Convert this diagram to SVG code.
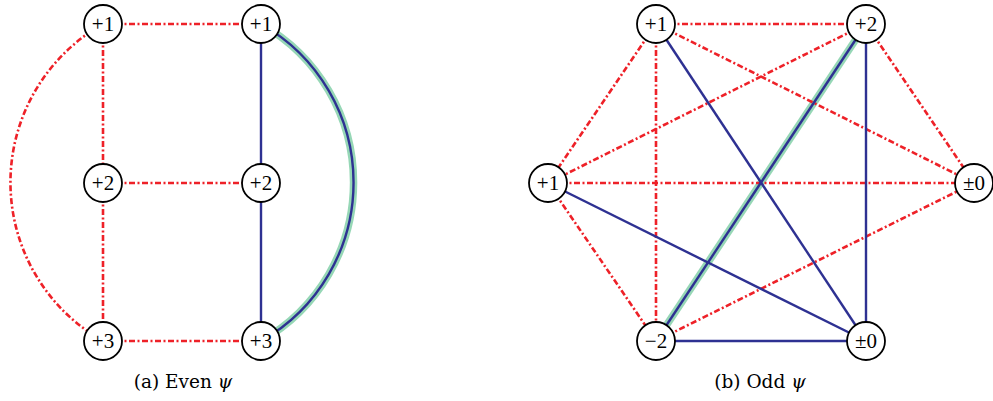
<svg xmlns="http://www.w3.org/2000/svg" width="993" height="401" viewBox="0 0 993 401">
<style>
.r{stroke:#ee2128;stroke-width:2.6;stroke-dasharray:6 2.5 2 2.5;fill:none}
.b{stroke:#2e3192;stroke-width:2.4;fill:none}
.g{stroke:#96d7b6;stroke-width:7.5;fill:none}
.n circle{fill:#fff;stroke:#000;stroke-width:1.8}
.n text{font-family:"Liberation Serif","DejaVu Serif",serif;font-size:21px;fill:#000;text-anchor:middle}
.cap{font-family:"DejaVu Serif","Liberation Serif",serif;font-size:18.5px;fill:#000;text-anchor:middle}
</style>
<g id="connectors">
<path class="g" d="M261,24 A182 182 0 0 1 261,341"/>
<line class="g" x1="866" y1="24" x2="656" y2="341"/>
<line class="r" x1="103" y1="24" x2="261" y2="24"/>
<line class="r" x1="103" y1="24" x2="103" y2="183"/>
<line class="r" x1="103" y1="183" x2="103" y2="341"/>
<line class="r" x1="103" y1="183" x2="261" y2="183"/>
<line class="r" x1="103" y1="341" x2="261" y2="341"/>
<path class="r" d="M103,24 A182 182 0 0 0 103,341"/>
<line class="b" x1="261" y1="24" x2="261" y2="183"/>
<line class="b" x1="261" y1="183" x2="261" y2="341"/>
<path class="b" d="M261,24 A182 182 0 0 1 261,341"/>
<line class="r" x1="656" y1="24" x2="866" y2="24"/>
<line class="r" x1="656" y1="24" x2="548" y2="183"/>
<line class="r" x1="656" y1="24" x2="656" y2="341"/>
<line class="r" x1="656" y1="24" x2="974" y2="183"/>
<line class="r" x1="866" y1="24" x2="548" y2="183"/>
<line class="r" x1="866" y1="24" x2="974" y2="183"/>
<line class="r" x1="548" y1="183" x2="974" y2="183"/>
<line class="r" x1="548" y1="183" x2="656" y2="341"/>
<line class="r" x1="656" y1="341" x2="974" y2="183"/>
<line class="b" x1="656" y1="24" x2="866" y2="341"/>
<line class="b" x1="866" y1="24" x2="656" y2="341"/>
<line class="b" x1="866" y1="24" x2="866" y2="341"/>
<line class="b" x1="548" y1="183" x2="866" y2="341"/>
<line class="b" x1="656" y1="341" x2="866" y2="341"/>
</g>
<g id="a1" class="n"><circle cx="103" cy="24" r="19"/><text x="103" y="31">+1</text></g>
<g id="a2" class="n"><circle cx="261" cy="24" r="19"/><text x="261" y="31">+1</text></g>
<g id="a3" class="n"><circle cx="103" cy="183" r="19"/><text x="103" y="190">+2</text></g>
<g id="a4" class="n"><circle cx="261" cy="183" r="19"/><text x="261" y="190">+2</text></g>
<g id="a5" class="n"><circle cx="103" cy="341" r="19"/><text x="103" y="348">+3</text></g>
<g id="a6" class="n"><circle cx="261" cy="341" r="19"/><text x="261" y="348">+3</text></g>
<g id="b1" class="n"><circle cx="656" cy="24" r="19"/><text x="656" y="31">+1</text></g>
<g id="b2" class="n"><circle cx="866" cy="24" r="19"/><text x="866" y="31">+2</text></g>
<g id="b3" class="n"><circle cx="548" cy="183" r="19"/><text x="548" y="190">+1</text></g>
<g id="b4" class="n"><circle cx="974" cy="183" r="19"/><text x="974" y="190">±0</text></g>
<g id="b5" class="n"><circle cx="656" cy="341" r="19"/><text x="656" y="348">−2</text></g>
<g id="b6" class="n"><circle cx="866" cy="341" r="19"/><text x="866" y="348">±0</text></g>
<text class="cap" x="183" y="388">(a) Even <tspan font-style="italic">ψ</tspan></text>
<text class="cap" x="760" y="388">(b) Odd <tspan font-style="italic">ψ</tspan></text>
</svg>
